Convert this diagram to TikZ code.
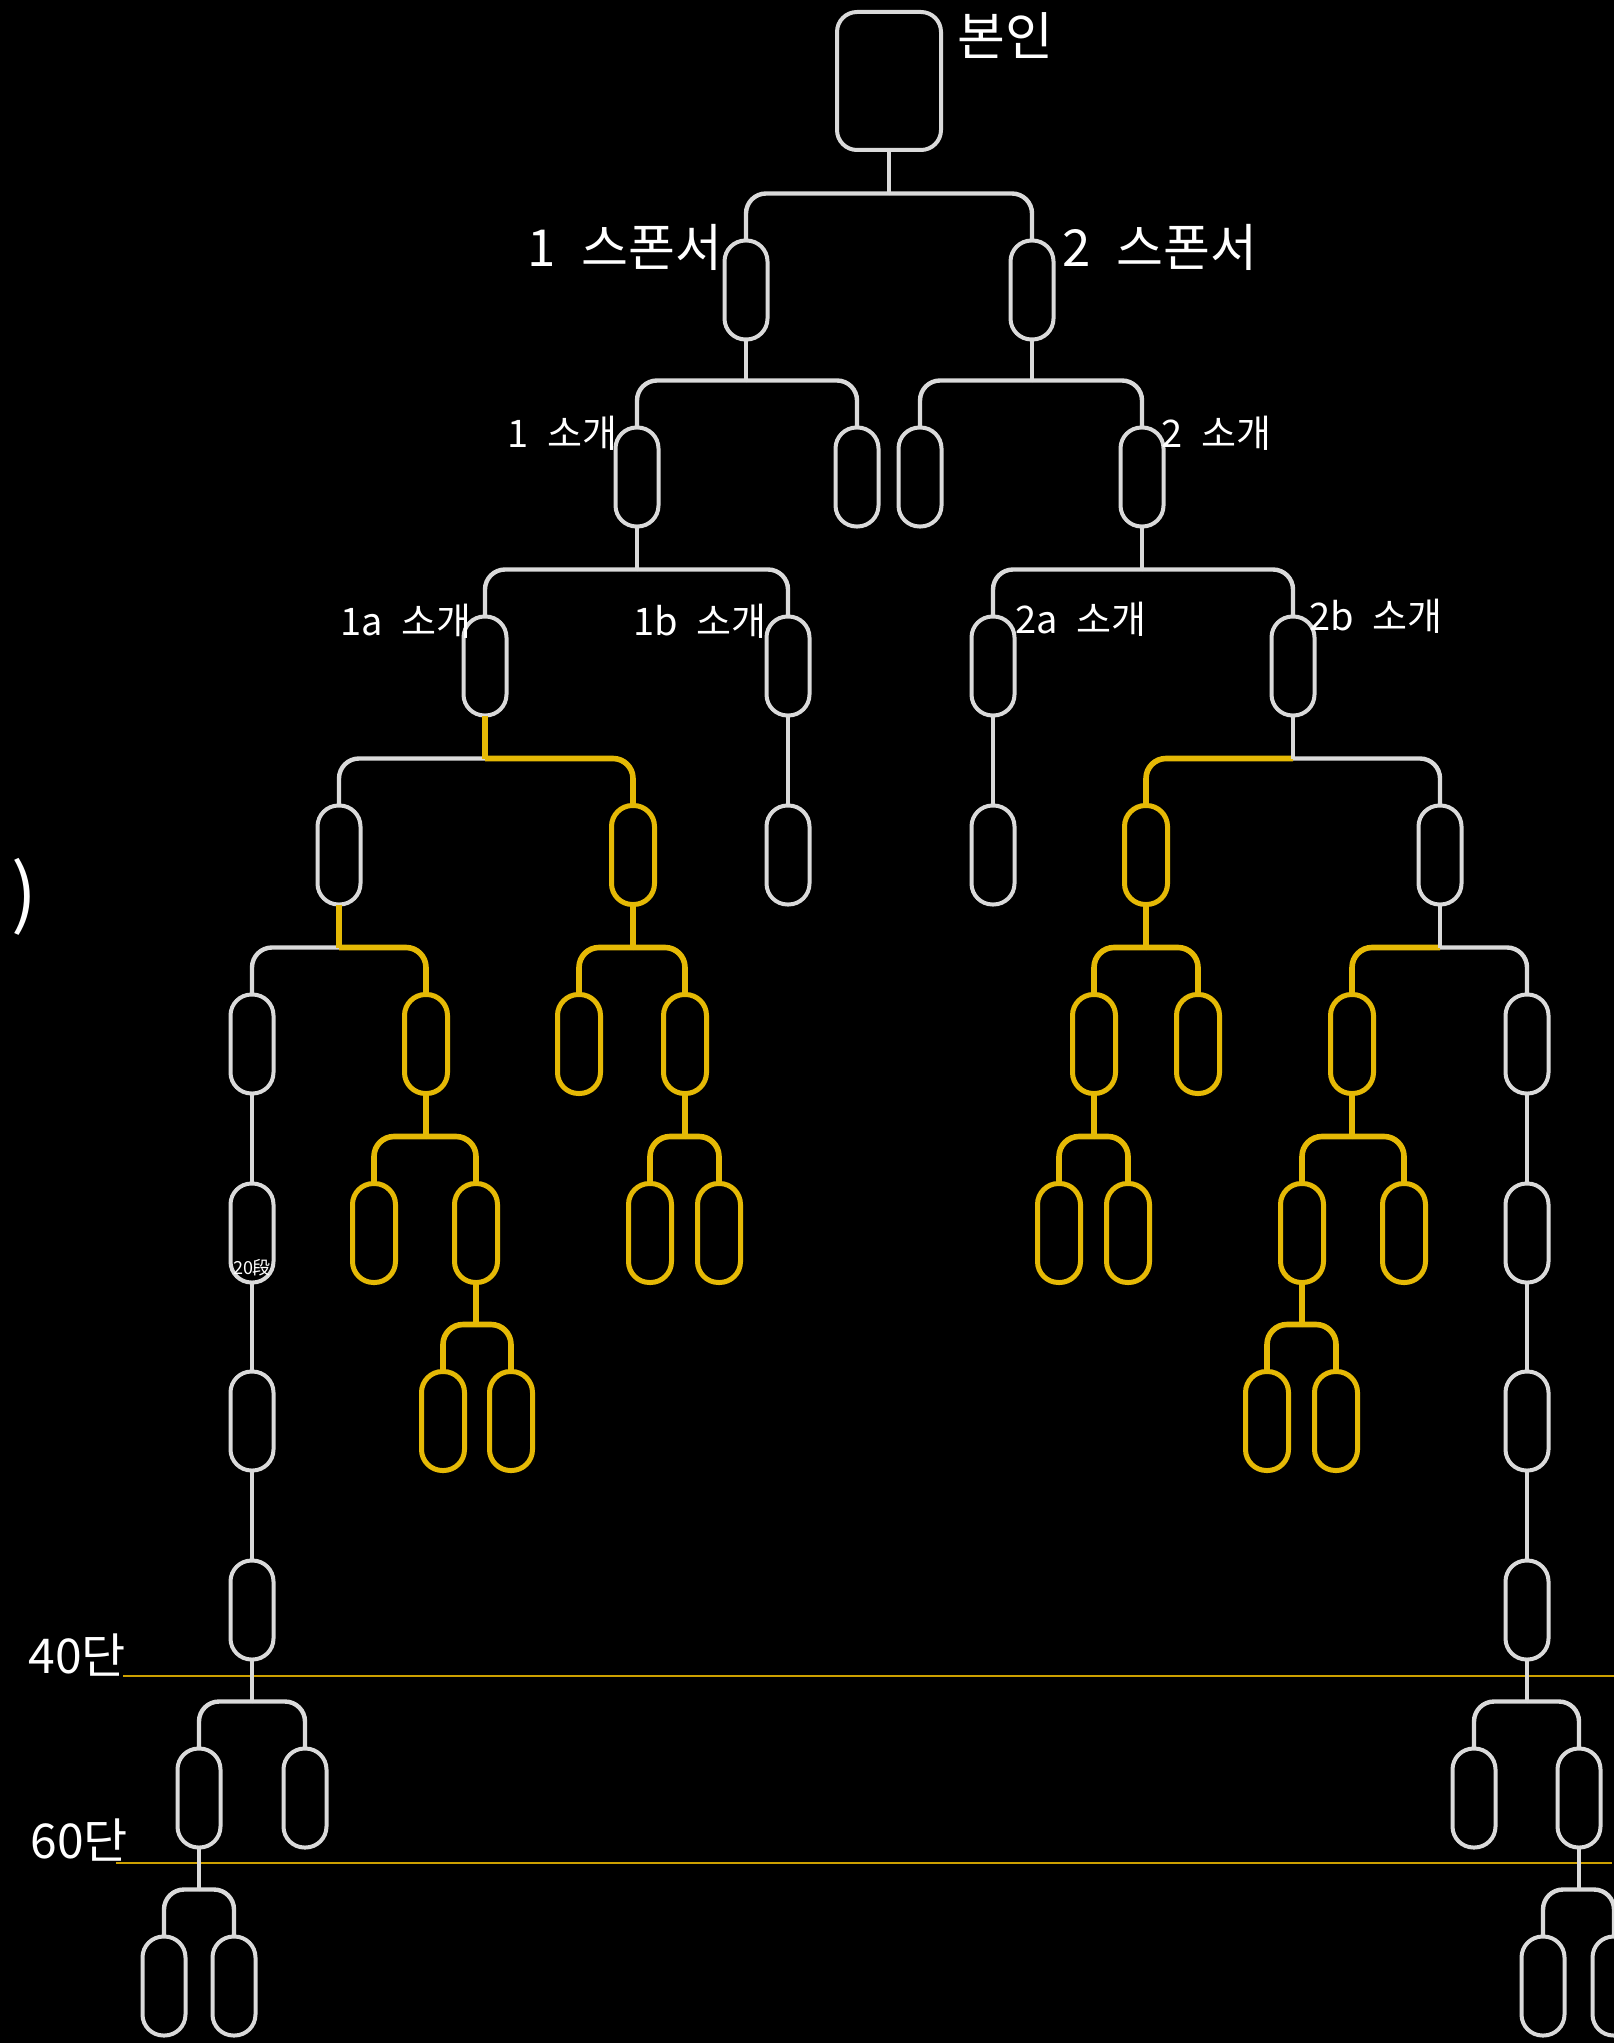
\documentclass[tikz,border=0pt]{standalone}
\usepackage{fontspec}
\setmainfont{Noto Sans CJK KR}
\definecolor{mgrey}{RGB}{218,218,218}
\definecolor{mgold}{RGB}{229,185,5}
\definecolor{mline}{RGB}{205,160,0}

\begin{document}
\begin{tikzpicture}[x=0.5pt,y=-0.5pt,
		wnode/.style={draw=mgrey,line width=2pt,rounded corners=10.5pt,minimum width=21.5pt,
			minimum height=49.5pt,inner sep=0pt,outer sep=0pt},
		ynode/.style={wnode,draw=mgold,line width=2.5pt},
		rootbox/.style={wnode,minimum width=52pt,minimum height=69pt,rounded corners=10pt},
		wline/.style={mgrey,line width=2.2pt},
		yline/.style={mgold,line width=2.8pt},
		lbl/.style={text=white,inner sep=0pt},
		bigtext/.style={lbl,font={\fontsize{25.5pt}{25.5pt}\selectfont\spaceskip 13pt\relax}},
		midtext/.style={lbl,font={\fontsize{19pt}{19pt}\selectfont\spaceskip 9.5pt\relax}}
	]

	% the page
	\fill[black] (0,0) rectangle (1614,2043);
	\clip (0,0) rectangle (1614,2043);

	% the level marks
	\node[lbl,anchor=west,font=\fontsize{24pt}{24pt}\selectfont] (t40) at (28,1655) {40단};
	\node[lbl,anchor=west,font=\fontsize{24pt}{24pt}\selectfont] (t60) at (30,1840) {60단};
	\draw[mline,line width=1pt] (123,1676) -- (1614,1676);
	\draw[mline,line width=1pt] (116,1863) -- (1612,1863);

	% the root
	\node[rootbox] (me) at (889,81) {};

	% the white boxes
	\foreach \n/\xc/\yc in {s1/746/290,s2/1032/290,
		i1/637/477,i1r/857/477,i2l/920/477,i2/1142/477,
		i1a/485/666,i1b/788/666,i2a/993/666,i2b/1293/666,
		a1/339/855,b1/788/855,c1/993/855,d2/1440/855,
		a11/252/1044,d22/1527/1044,
		l7/252/1233,r7/1527/1233,l8/252/1421,r8/1527/1421,l9/252/1610,r9/1527/1610,
		l101/199/1798,l102/305/1798,r101/1474/1798,r102/1579/1798,
		l111/164/1986,l112/234/1986,r111/1543/1986,r112/1614/1986}
		\node[wnode] (\n) at (\xc,\yc) {};

	% the gold boxes
	\foreach \n/\xc/\yc in {a2/633/855,d1/1146/855,
		a12/426/1044,a21/579/1044,a22/685/1044,d11/1094/1044,d12/1198/1044,d21/1352/1044,
		a121/374/1233,a122/476/1233,a221/650/1233,a222/719/1233,
		d111/1059/1233,d112/1128/1233,d211/1302/1233,d212/1404/1233,
		a1221/443/1421,a1222/511/1421,d2111/1267/1421,d2112/1336/1421}
		\node[ynode] (\n) at (\xc,\yc) {};

	% the branches: parent/child/stem/leg
	\foreach \p/\c/\s/\l in {me/s1/wline/wline,me/s2/wline/wline,
		s1/i1/wline/wline,s1/i1r/wline/wline,s2/i2l/wline/wline,s2/i2/wline/wline,
		i1/i1a/wline/wline,i1/i1b/wline/wline,i2/i2a/wline/wline,i2/i2b/wline/wline,
		i1a/a1/yline/wline,i1a/a2/yline/yline,i2b/d1/wline/yline,i2b/d2/wline/wline,
		a1/a11/yline/wline,a1/a12/yline/yline,a2/a21/yline/yline,a2/a22/yline/yline,
		d1/d11/yline/yline,d1/d12/yline/yline,d2/d21/wline/yline,d2/d22/wline/wline,
		a12/a121/yline/yline,a12/a122/yline/yline,a22/a221/yline/yline,a22/a222/yline/yline,
		d11/d111/yline/yline,d11/d112/yline/yline,d21/d211/yline/yline,d21/d212/yline/yline,
		a122/a1221/yline/yline,a122/a1222/yline/yline,d211/d2111/yline/yline,d211/d2112/yline/yline,
		l9/l101/wline/wline,l9/l102/wline/wline,r9/r101/wline/wline,r9/r102/wline/wline,
		l101/l111/wline/wline,l101/l112/wline/wline,r102/r111/wline/wline,r102/r112/wline/wline}
	{
		\path (\c.north) ++(0,-47) coordinate (bar);
		\draw[\s] (\p.south) -- (\p.south |- bar);
		\draw[\l,rounded corners=10pt] (\p.south |- bar) -| (\c.north);
	}

	% the straight links
	\foreach \p/\c in {i1b/b1,i2a/c1,a11/l7,l7/l8,l8/l9,d22/r7,r7/r8,r8/r9}
		\draw[wline] (\p.south) -- (\c.north);

	% the names
	\node[lbl,anchor=west,font=\fontsize{26pt}{26pt}\selectfont] (tme) at (957,36) {본인};
	\node[bigtext,anchor=east] (ts1) at (723,247) {1 스폰서};
	\node[bigtext,anchor=west] (ts2) at (1062,247) {2 스폰서};
	\node[midtext,anchor=east] (ti1) at (618,433) {1 소개};
	\node[midtext,anchor=west] (ti2) at (1161,433) {2 소개};
	\node[midtext,anchor=east] (ti1a) at (472,621) {1a 소개};
	\node[midtext,anchor=east] (ti1b) at (767,621) {1b 소개};
	\node[midtext,anchor=west] (ti2a) at (1015,619) {2a 소개};
	\node[midtext,anchor=west] (ti2b) at (1309,616) {2b 소개};
	\node[lbl,font=\fontsize{9pt}{9pt}\selectfont] (t20) at (252,1268) {20段};
	\node[lbl,font=\fontsize{38pt}{38pt}\selectfont] (paren) at (24,897) {)};
\end{tikzpicture}
\end{document}
